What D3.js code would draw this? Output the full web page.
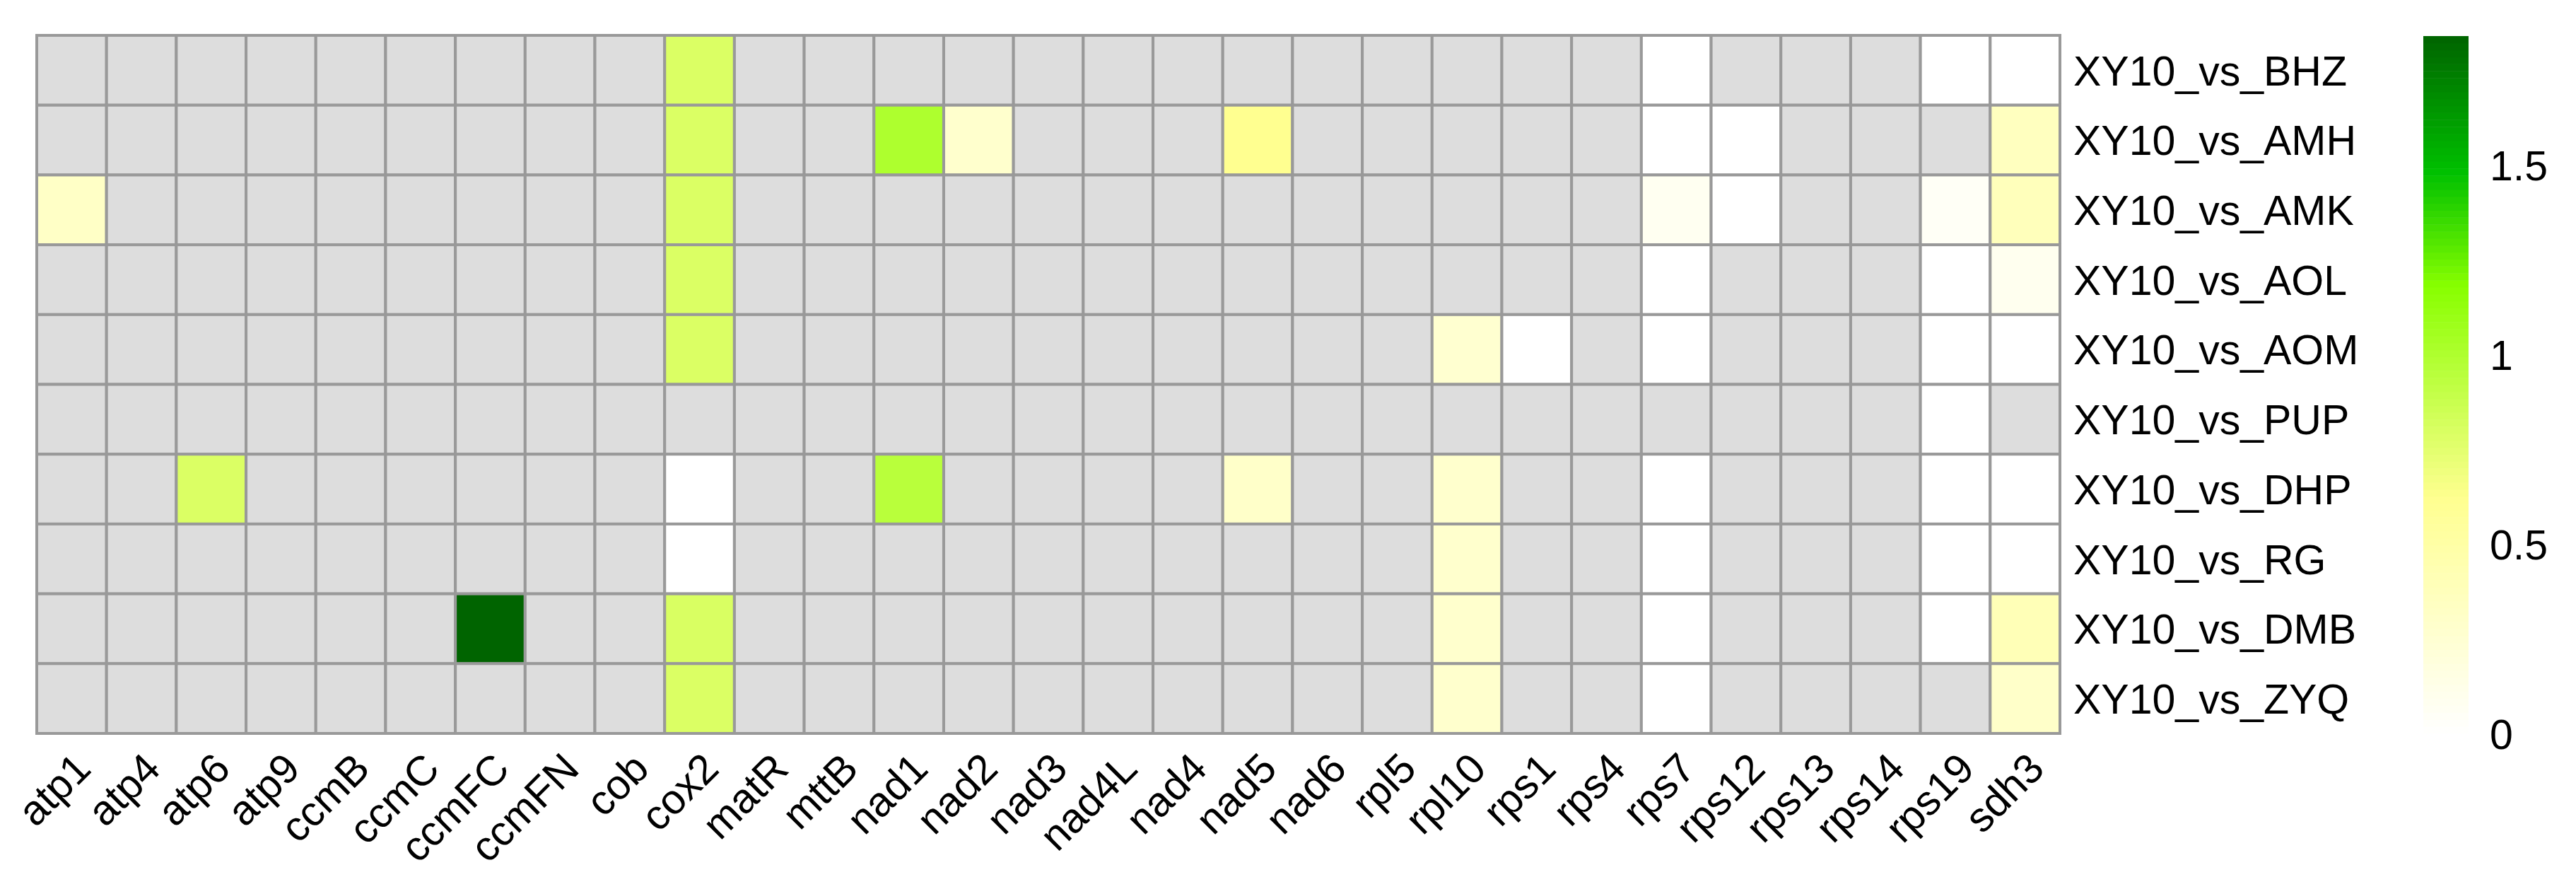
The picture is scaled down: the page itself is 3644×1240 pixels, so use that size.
<!DOCTYPE html>
<html>
<head>
<meta charset="utf-8">
<script src="https://cdn.jsdelivr.net/npm/d3@7"></script>
<style>
  body { margin: 0; background: #fff; }
  svg { display: block; font-family: "Liberation Sans", Arial, sans-serif; }
</style>
</head>
<body>
<svg id="chart" width="3644" height="1240"></svg>
<script>
'use strict'

// genes along the bottom
const genes = ['atp1', 'atp4', 'atp6', 'atp9', 'ccmB', 'ccmC', 'ccmFC', 'ccmFN', 'cob', 'cox2',
    'matR', 'mttB', 'nad1', 'nad2', 'nad3', 'nad4L', 'nad4', 'nad5', 'nad6', 'rpl5',
    'rpl10', 'rps1', 'rps4', 'rps7', 'rps12', 'rps13', 'rps14', 'rps19', 'sdh3']

const samples = ['XY10_vs_BHZ', 'XY10_vs_AMH', 'XY10_vs_AMK', 'XY10_vs_AOL', 'XY10_vs_AOM',
    'XY10_vs_PUP', 'XY10_vs_DHP', 'XY10_vs_RG', 'XY10_vs_DMB', 'XY10_vs_ZYQ']

// one row per comparison, null = NA (grey cell)
const _ = null
//            atp1 atp4 atp6 atp9 ccmB ccmC ccmFC ccmFN cob cox2 matR mttB nad1 nad2 nad3 nad4L nad4 nad5 nad6 rpl5 rpl10 rps1 rps4 rps7 rps12 rps13 rps14 rps19 sdh3
const BHZ = [_, _, _, _, _, _, _, _, _, 0.79, _, _, _, _, _, _, _, _, _, _, _, _, _, 0, _, _, _, 0, 0]
const AMH = [_, _, _, _, _, _, _, _, _, 0.79, _, _, 1.0, 0.28, _, _, _, 0.62, _, _, _, _, _, 0, 0, _, _, _, 0.36]
const AMK = [0.32, _, _, _, _, _, _, _, _, 0.79, _, _, _, _, _, _, _, _, _, _, _, _, _, 0.08, 0, _, _, 0.05, 0.38]
const AOL = [_, _, _, _, _, _, _, _, _, 0.79, _, _, _, _, _, _, _, _, _, _, _, _, _, 0, _, _, _, 0, 0.09]
const AOM = [_, _, _, _, _, _, _, _, _, 0.79, _, _, _, _, _, _, _, _, _, _, 0.26, 0, _, 0, _, _, _, 0, 0]
const PUP = [_, _, _, _, _, _, _, _, _, _, _, _, _, _, _, _, _, _, _, _, _, _, _, _, _, _, _, 0, _]
const DHP = [_, _, 0.79, _, _, _, _, _, _, 0, _, _, 0.95, _, _, _, _, 0.3, _, _, 0.28, _, _, 0, _, _, _, 0, 0]
const RG = [_, _, _, _, _, _, _, _, _, 0, _, _, _, _, _, _, _, _, _, _, 0.28, _, _, 0, _, _, _, 0, 0]
const DMB = [_, _, _, _, _, _, 1.84, _, _, 0.8, _, _, _, _, _, _, _, _, _, _, 0.28, _, _, 0, _, _, _, 0, 0.4]
const ZYQ = [_, _, _, _, _, _, _, _, _, 0.79, _, _, _, _, _, _, _, _, _, _, 0.28, _, _, 0, _, _, _, _, 0.3]

const rows = [BHZ, AMH, AMK, AOL, AOM, PUP, DHP, RG, DMB, ZYQ]

// colour ramp of the legend
const colorStops = [0, 0.62, 1.18, 1.48, 1.84]
const colorHex = ['#ffffff', '#ffff90', '#88ff00', '#00c000', '#006400']
const legendTicks = [0, 0.5, 1, 1.5]

const NA_COLOR = '#dddddd'
const BORDER = '#999999'
const FONT = 59

const svg = d3.select('#chart')

svg.append('rect').attr('width', 3644).attr('height', 1240).attr('fill', '#fff')

const x = d3.scaleBand().domain(genes).range([52, 2914])
const y = d3.scaleBand().domain(samples).range([50, 1037])

const color = d3.scaleLinear()
    .domain(colorStops)
    .range(colorHex)
    .interpolate(d3.interpolateRgb)
    .clamp(true)

let cells = []
rows.forEach((vals, i) => {
    vals.forEach((v, j) => {
        cells.push({ sample: samples[i], gene: genes[j], value: v })
    })
})

svg.append('g')
    .selectAll('rect')
    .data(cells)
    .join('rect')
    .attr('x', d => x(d.gene))
    .attr('y', d => y(d.sample))
    .attr('width', x.bandwidth())
    .attr('height', y.bandwidth())
    .attr('fill', d => d.value === null ? NA_COLOR : color(d.value))
    .attr('stroke', BORDER)
    .attr('stroke-width', 4)

// gene labels, turned 45 degrees
let colAxis = svg.append('g')
    .attr('transform', 'translate(0,1060)')
    .call(d3.axisBottom(x).tickSize(0))

colAxis.select('.domain').remove()
colAxis.selectAll('text')
    .attr('x', 0)
    .attr('y', 0)
    .attr('dy', '0.72em')
    .attr('text-anchor', 'end')
    .attr('transform', 'rotate(-45)')
    .attr('fill', '#000')
    .style('font-size', FONT + 'px')
    .style('font-family', '"Liberation Sans", Arial, sans-serif')

// sample labels on the right
let rowAxis = svg.append('g')
    .attr('transform', 'translate(2914,0)')
    .call(d3.axisRight(y).tickSize(0).tickPadding(19))

rowAxis.select('.domain').remove()
rowAxis.selectAll('text')
    .attr('dy', '0.36em')
    .attr('fill', '#000')
    .style('font-size', FONT + 'px')
    .style('font-family', '"Liberation Sans", Arial, sans-serif')

// legend
const legendY = d3.scaleLinear().domain([0, 1.84]).range([1037, 51])
const nBands = 100
const bandStep = 1.84 / nBands

svg.append('g')
    .selectAll('rect')
    .data(d3.range(nBands))
    .join('rect')
    .attr('x', 3428)
    .attr('width', 64)
    .attr('y', i => legendY((i + 1) * bandStep))
    .attr('height', i => legendY(i * bandStep) - legendY((i + 1) * bandStep) + 0.5)
    .attr('fill', i => color((i + 0.5) * bandStep))

let legendAxis = svg.append('g')
    .attr('transform', 'translate(3492,0)')
    .call(d3.axisRight(legendY).tickValues(legendTicks).tickFormat(d3.format('~g')).tickSize(0).tickPadding(30))

legendAxis.select('.domain').remove()
legendAxis.selectAll('text')
    .attr('dy', '0.36em')
    .attr('fill', '#000')
    .style('font-size', FONT + 'px')
    .style('font-family', '"Liberation Sans", Arial, sans-serif')
</script>
</body>
</html>
